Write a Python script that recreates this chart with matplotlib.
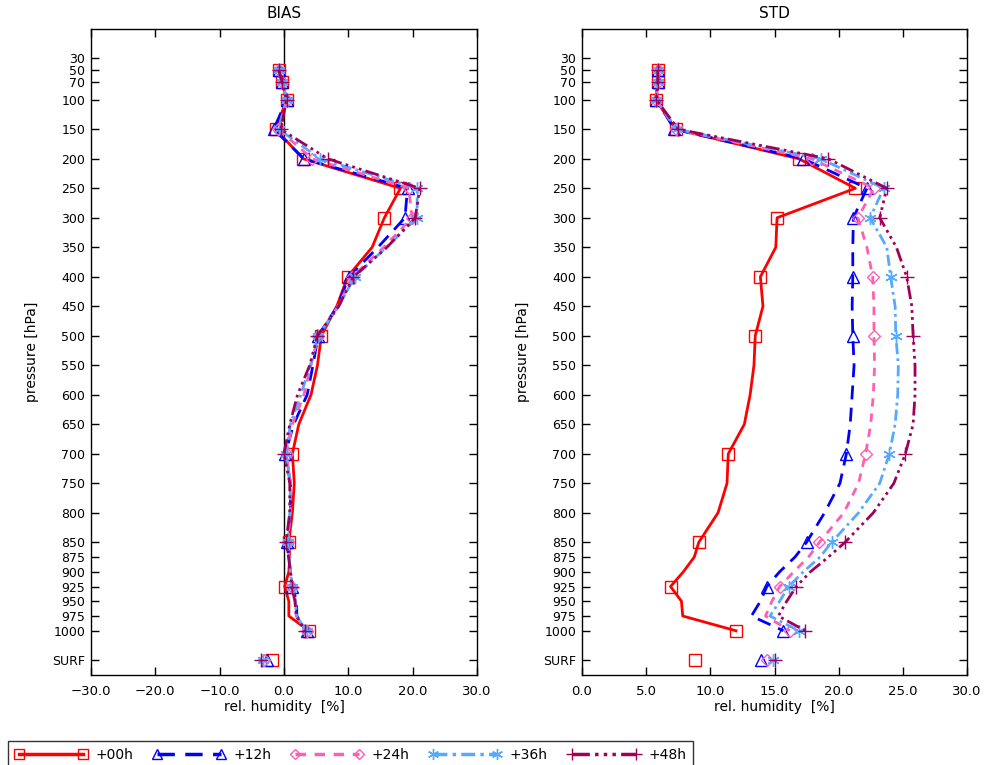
import matplotlib
matplotlib.use("Agg")
import matplotlib.pyplot as plt
from matplotlib.lines import Line2D
import numpy as np

# ---------------- data ----------------
levels = [50, 70, 100, 150, 200, 250, 300, 350, 400, 450, 500, 550, 600, 650,
          700, 750, 800, 850, 875, 900, 925, 950, 975, 1000]
marker_levels = [50, 70, 100, 150, 200, 250, 300, 400, 500, 700, 850, 925, 1000]
surf_pos = 1050
ytick_vals = [30, 50, 70, 100, 150, 200, 250, 300, 350, 400, 450, 500, 550, 600,
              650, 700, 750, 800, 850, 875, 900, 925, 950, 975, 1000, 1050]
ytick_labels = ["30", "50", "70", "100", "150", "200", "250", "300", "350", "400",
                "450", "500", "550", "600", "650", "700", "750", "800", "850",
                "875", "900", "925", "950", "975", "1000", "SURF"]

series_labels = ["+00h", "+12h", "+24h", "+36h", "+48h"]

bias_00 = [-0.8, -0.3, 0.4, -1.3, 3.0, 18.1, 15.6, 13.7, 9.9, 8.2, 5.8, 5.2, 4.2, 2.3,
           1.3, 1.6, 1.3, 0.75, 0.9, 0.75, 0.1, 0.75, 0.75, 3.85]
bias_12 = [-0.8, -0.3, 0.4, -1.6, 3.1, 19.2, 18.8, 14.6, 10.1, 8.3, 5.3, 4.5, 3.6, 1.5,
           0.2, 1.0, 1.0, 0.4, 0.75, 1.0, 1.3, 1.95, 2.0, 3.5]
bias_24 = [-0.8, -0.3, 0.4, -0.9, 4.4, 19.4, 19.9, 15.5, 10.6, 8.4, 5.3, 4.2, 3.1, 1.3,
           0.4, 1.0, 1.0, 0.55, 0.8, 1.0, 1.3, 1.8, 1.9, 3.5]
bias_36 = [-0.8, -0.3, 0.4, -0.8, 5.6, 20.7, 20.7, 15.9, 11.0, 8.5, 5.3, 4.1, 2.6, 1.0,
           0.3, 1.0, 0.9, 0.6, 0.8, 1.0, 1.3, 1.8, 1.9, 3.5]
bias_48 = [-0.8, -0.3, 0.4, -0.5, 6.8, 21.1, 20.4, 16.0, 10.8, 8.5, 5.2, 4.0, 2.1, 0.9,
           0.0, 0.9, 0.9, 0.3, 0.7, 1.0, 1.2, 1.7, 1.9, 3.3]
bias_surf = [-1.8, -2.6, -3.1, -3.2, -3.5]

std_00 = [5.9, 5.9, 5.75, 7.3, 16.9, 21.3, 15.2, 15.1, 13.9, 14.1, 13.5, 13.4, 13.1, 12.65,
          11.4, 11.3, 10.6, 9.1, 8.75, 7.9, 6.9, 7.75, 7.85, 12.0]
std_12 = [5.9, 5.9, 5.8, 7.2, 17.25, 22.2, 21.15, 21.1, 21.1, 21.05, 21.1, 21.2, 21.05, 20.9,
          20.6, 20.1, 18.9, 17.5, 16.6, 15.4, 14.4, 13.9, 13.2, 15.7]
std_24 = [5.9, 5.9, 5.8, 7.3, 17.9, 22.75, 21.5, 22.2, 22.65, 22.75, 22.75, 22.8, 22.7, 22.5,
          22.1, 21.55, 20.4, 18.5, 17.65, 16.5, 15.4, 14.8, 14.3, 16.2]
std_36 = [5.9, 5.9, 5.8, 7.4, 18.6, 23.5, 22.45, 23.75, 24.05, 24.4, 24.45, 24.65, 24.6, 24.4,
          23.95, 23.2, 21.55, 19.45, 18.55, 17.25, 16.1, 15.4, 14.65, 16.9]
std_48 = [5.9, 5.9, 5.8, 7.5, 19.2, 23.75, 23.2, 24.5, 25.3, 25.7, 25.8, 25.95, 25.95, 25.8,
          25.2, 24.3, 22.7, 20.5, 19.2, 17.8, 16.7, 15.95, 15.3, 17.4]
std_surf = [8.8, 13.95, 14.4, 14.9, 15.05]

bias_all = [bias_00, bias_12, bias_24, bias_36, bias_48]
std_all = [std_00, std_12, std_24, std_36, std_48]

# ---------------- styles ----------------
colors = ["#ff0000", "#0000ff", "#ff5fb0", "#55aaff", "#a0005a"]
dashes = [None, (5, 3), (3, 2.5), (4, 1.5, 1, 1.5), (5, 1.5, 1, 1.5, 1, 1.5, 1, 1.5)]
markers = ["s", "^", "D", (6, 2, 0), "+"]
msizes = [8.5, 8, 6, 9, 10]

plt.rcParams['font.family'] = ['DejaVu Sans']
plt.rcParams['axes.linewidth'] = 1.0

fig = plt.figure(figsize=(9.85, 7.65), dpi=100)
W, H = 985.0, 765.0
ax1 = fig.add_axes([91 / W, 1 - 675 / H, 386 / W, 646 / H])
ax2 = fig.add_axes([582 / W, 1 - 675 / H, 385 / W, 646 / H])

mk_idx = [levels.index(l) for l in marker_levels]

def draw(ax, data, surf):
    for i in range(5):
        ln, = ax.plot(data[i], levels, color=colors[i], lw=2.0,
                      marker=markers[i], markevery=mk_idx, ms=msizes[i],
                      mfc='none', mec=colors[i], mew=1.0)
        if dashes[i] is not None:
            ln.set_dashes(dashes[i])
        ax.plot([surf[i]], [surf_pos], linestyle='none', marker=markers[i],
                ms=msizes[i], mfc='none', mec=colors[i], mew=1.0)

draw(ax1, bias_all, bias_surf)
draw(ax2, std_all, std_surf)
ax1.axvline(0, color='black', lw=1.0, zorder=0)

def fmt(v):
    s = "%.1f" % abs(v)
    return ("\u2212" + s) if v < 0 else s

for ax, xlim, xt, title in [(ax1, (-30, 30), np.arange(-30, 31, 10), "BIAS"),
                            (ax2, (0, 30), np.arange(0, 31, 5), "STD")]:
    ax.set_xlim(*xlim)
    ax.set_ylim(1075, -20)
    ax.set_xticks(xt)
    ax.set_xticklabels([fmt(v) for v in xt])
    ax.set_yticks(ytick_vals)
    ax.set_yticklabels(ytick_labels)
    ax.tick_params(direction='in', top=True, right=True, length=6, width=1.0,
                   labelsize=9.5, pad=4)
    ax.tick_params(axis='y', labelsize=9)
    ax.tick_params(axis='x', pad=7)
    ax.set_xlabel("rel. humidity  [%]", fontsize=10, labelpad=2)
    ax.set_ylabel("pressure [hPa]", fontsize=10, labelpad=10)
    ax.set_title(title, fontsize=11, pad=8)

# ---------------- legend ----------------
handles = []
for i in range(5):
    h = Line2D([0], [0], color=colors[i], lw=2.5, marker=markers[i], ms=msizes[i] - 1,
               mfc='none', mec=colors[i], mew=1.0)
    if dashes[i] is not None:
        h.set_dashes(dashes[i])
    handles.append(h)
leg = fig.legend(handles, series_labels, loc='upper left',
                 bbox_to_anchor=(8 / W, 1 - 741 / H, 685 / W, 0.0), mode='expand',
                 ncol=5, numpoints=2, handlelength=5.2, handletextpad=0.6,
                 borderaxespad=0, fontsize=10, frameon=True, fancybox=False,
                 edgecolor='black', borderpad=0.5)
leg.get_frame().set_linewidth(1.0)

fig.savefig("out.png", dpi=100)
